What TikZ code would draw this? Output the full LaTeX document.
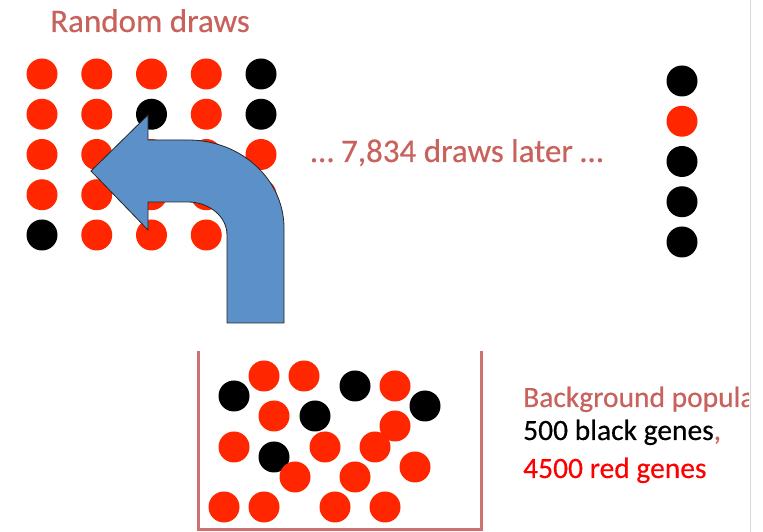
\documentclass[tikz,border=0pt]{standalone}
\usepackage{fontspec}
\setmainfont{Carlito}
\newfontface\rdfont{Carlito}[FakeBold=0.4]
\definecolor{rdRose}{HTML}{C8625C}
\definecolor{rdRed}{HTML}{FF2600}
\definecolor{rdBlue}{HTML}{5B90C8}
\definecolor{rdLine}{HTML}{DADADA}
\colorlet{dotr}{rdRed}
\colorlet{dotk}{black}
\tikzset{
  rd bin/.style={draw=rdRose!90!white, line width=3pt},
  rd arrow/.style={fill=rdBlue, draw=black!85, line width=0.8pt, line join=miter},
  rd big label/.style={font=\rdfont\fontsize{33}{38}\selectfont, text=rdRose, inner sep=0pt, anchor=base},
  rd label/.style={font=\rdfont\fontsize{29.5}{34}\selectfont, inner sep=0pt, anchor=base west},
}

\begin{document}
\begin{tikzpicture}[x=1pt, y=1pt]
  \useasboundingbox (0,0) rectangle (763,532);

  % Slide edge on the right
  \draw[rdLine, line width=0.8pt] (750,0) -- (750,532);

  % Drawn sample: 5 x 5 grid
  \node[rd big label] (title) at (150,500) {Random draws};
  \foreach \row [count=\j] in {{r,r,r,r,k},{r,r,k,r,k},{r,r,r,r,r},{r,r,r,r,r},{k,r,r,r,r}} {
    \foreach \c [count=\i] in \row {
      \fill[dot\c] ({42+54.75*(\i-1)},{458-40.25*(\j-1)}) circle (15.5);
    }
  }

  % After many draws: one column
  \node[rd big label] (later) at (457,370) {… 7,834 draws later …};
  \foreach \c [count=\j] in {k,r,k,k,k} {
    \fill[dot\c] (682,{451-40.25*(\j-1)}) circle (15.5);
  }

  % Background population in the bin
  \foreach \x/\y in {234/136, 355/146, 315/116, 425/126, 274/75} {
    \fill[dotk] (\x,\y) circle (15.5);
  }
  \foreach \x/\y in {264/156, 304/156, 395/146, 274/116, 395/106, 234/85, 325/85,
                     375/85, 295/55, 355/55, 415/65, 224/25, 264/25, 335/25, 385/25} {
    \fill[dotr] (\x,\y) circle (15.5);
  }
  \draw[rd bin] (198.5,181) -- (198.5,2) -- (481.5,2) -- (481.5,181);

  % Bent arrow from the bin up to the grid
  \draw[rd arrow] (148,392) -- (188,392)
    arc[start angle=90, end angle=0, x radius=96, y radius=88]
    -- (284,209) -- (227,209) -- (227,297)
    arc[start angle=0, end angle=90, x radius=39, y radius=33]
    -- (148,330) -- (148,302) -- (91,361) -- (148,417) -- cycle;

  % Legend, cut off at the slide edge
  \begin{scope}
    \clip (0,0) rectangle (749,532);
    \node[rd label, text=rdRose] (bg) at (523,125) {Background population};
  \end{scope}
  \node[rd label] (black) at (523,92) {500 black genes\textcolor{rdRose}{,}};
  \node[rd label, text=red] (red) at (523,54) {4500 red genes};
\end{tikzpicture}
\end{document}
